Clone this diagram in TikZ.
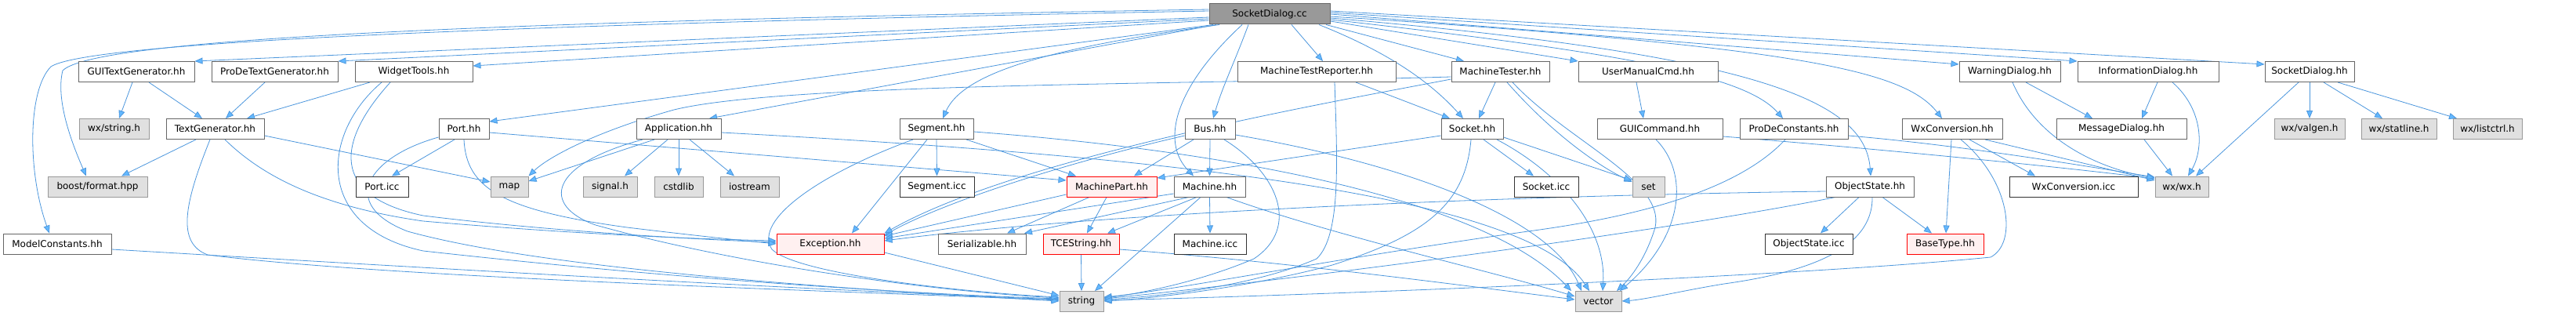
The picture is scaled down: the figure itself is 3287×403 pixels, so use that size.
\documentclass[tikz,border=0pt]{standalone}
\usepackage{fontspec}
\setmainfont{DejaVu Sans}
\usetikzlibrary{arrows.meta,backgrounds}
\definecolor{DoxEdge}{HTML}{63B8FF}
\definecolor{DoxEdgeLine}{HTML}{4C97DD}
\definecolor{DoxLine}{HTML}{666666}
\definecolor{DoxSys}{HTML}{E0E0E0}
\definecolor{DoxSysLine}{HTML}{999999}
\definecolor{DoxTrunc}{HTML}{FFF0F0}
\definecolor{DoxRoot}{HTML}{999999}

\begin{document}
\begin{tikzpicture}[x=0.75pt, y=-0.75pt,
    hdr/.style={rectangle, draw=DoxLine, fill=white, line width=0.75pt,
      minimum height=19.5pt, inner sep=0pt, font=\fontsize{9}{11}\selectfont},
    w/.style={minimum width=#1*0.75pt},
    sys/.style={hdr, draw=DoxSysLine, fill=DoxSys},
    trunc/.style={hdr, draw=red, fill=DoxTrunc},
    icc/.style={hdr, draw=black!80},
    root/.style={hdr, fill=DoxRoot},
    dep/.style={draw=DoxEdgeLine, line width=0.6pt,
      -{Triangle[length=7.5pt,width=6pt,fill=DoxEdge]}}]
    \useasboundingbox (0,0) rectangle (3287,403);
    % row 0
    \node[root, w=154] (sdc) at (1620,18) {SocketDialog.cc};
    % row 1
    \node[hdr, w=148] (gtg) at (174,91.5) {GUITextGenerator.hh};
    \node[hdr, w=161] (pdtg) at (350.5,91.5) {ProDeTextGenerator.hh};
    \node[hdr, w=150] (wt) at (528,91.5) {WidgetTools.hh};
    \node[hdr, w=202] (mtr) at (1680,91.5) {MachineTestReporter.hh};
    \node[hdr, w=125] (mt) at (1914.5,91.5) {MachineTester.hh};
    \node[hdr, w=178] (umc) at (2103,91.5) {UserManualCmd.hh};
    \node[hdr, w=129] (wd) at (2564.5,91.5) {WarningDialog.hh};
    \node[hdr, w=180] (infd) at (2741,91.5) {InformationDialog.hh};
    \node[hdr, w=114] (sdh) at (2947,91.5) {SocketDialog.hh};
    % row 2
    \node[sys, w=89] (wxstr) at (145.5,164.5) {wx/string.h};
    \node[hdr, w=125] (tg) at (274.5,164.5) {TextGenerator.hh};
    \node[hdr, w=64] (port) at (592,164.5) {Port.hh};
    \node[hdr, w=108] (app) at (866,164.5) {Application.hh};
    \node[hdr, w=94] (seg) at (1195,164.5) {Segment.hh};
    \node[hdr, w=64] (bus) at (1544,164.5) {Bus.hh};
    \node[hdr, w=79] (sock) at (1878.5,164.5) {Socket.hh};
    \node[hdr, w=160] (guic) at (2118,164.5) {GUICommand.hh};
    \node[hdr, w=138] (pdc) at (2289,164.5) {ProDeConstants.hh};
    \node[hdr, w=128] (wxc) at (2491,164.5) {WxConversion.hh};
    \node[hdr, w=166] (msgd) at (2707,164.5) {MessageDialog.hh};
    \node[sys, w=90] (valgen) at (2947,164.5) {wx/valgen.h};
    \node[sys, w=96] (statl) at (3061,164.5) {wx/statline.h};
    \node[sys, w=88] (listc) at (3174,164.5) {wx/listctrl.h};
    % row 3
    \node[sys, w=127] (boost) at (124.5,238) {boost/format.hpp};
    \node[icc, w=67] (porticc) at (487.5,238) {Port.icc};
    \node[sys, w=48] (map) at (650,238) {map};
    \node[sys, w=69] (signal) at (778.5,238) {signal.h};
    \node[sys, w=62] (cstdlib) at (866,238) {cstdlib};
    \node[sys, w=75] (iostream) at (956.5,238) {iostream};
    \node[icc, w=95] (segicc) at (1195.5,238) {Segment.icc};
    \node[trunc, w=115] (mp) at (1418.5,238) {MachinePart.hh};
    \node[hdr, w=91] (mach) at (1543.5,238) {Machine.hh};
    \node[icc, w=82] (sockicc) at (1973,238) {Socket.icc};
    \node[sys, w=41] (set) at (2103.5,238) {set};
    \node[hdr, w=112] (os) at (2386,238) {ObjectState.hh};
    \node[icc, w=164] (wxcicc) at (2646,238) {WxConversion.icc};
    \node[sys, w=68] (wxwx) at (2784,238) {wx/wx.h};
    % row 4
    \node[hdr, w=138] (modc) at (73,311) {ModelConstants.hh};
    \node[trunc, w=137] (exc) at (1059.5,311) {Exception.hh};
    \node[hdr, w=112] (ser) at (1253,311) {Serializable.hh};
    \node[trunc, w=97] (tces) at (1379.5,311) {TCEString.hh};
    \node[icc, w=92] (machicc) at (1544,311) {Machine.icc};
    \node[icc, w=112] (osicc) at (2308,311) {ObjectState.icc};
    \node[trunc, w=98] (bt) at (2482,311) {BaseType.hh};
    % row 5
    \node[sys, w=56] (str) at (1380,384.5) {string};
    \node[sys, w=59] (vec) at (2039.5,384.5) {vector};

    \begin{scope}[on background layer]
    \fill[white] (0,0) rectangle (3287,403);
    % includes of the root file
    \draw[dep] (sdc.west |- 0,22) -- (gtg.north east);
    \draw[dep] (sdc.west |- 0,24) -- (pdtg.north east);
    \draw[dep] (sdc.west |- 0,26) -- (wt.east |- 0,84);
    \draw[dep] (sdc.west |- 0,12) .. controls (600,28) and (120,50) .. (80,90) .. controls (70,130) and (95,190) .. (110,0 |- boost.north);
    \draw[dep] (sdc.west |- 0,14) .. controls (600,32) and (110,55) .. (65,85) .. controls (35,115) and (35,220) .. (63,0 |- modc.north);
    \draw[dep] (1548,0 |- sdc.south) -- (port.east |- 0,155);
    \draw[dep] (1552,0 |- sdc.south) -- (905,0 |- app.north);
    \draw[dep] (1556,0 |- sdc.south) .. controls (1350,60) and (1230,90) .. (1203,0 |- seg.north);
    \draw[dep] (1593,0 |- sdc.south) .. controls (1575,80) and (1560,110) .. (1548,0 |- bus.north);
    \draw[dep] (1585,0 |- sdc.south) .. controls (1500,110) and (1480,180) .. (1523,0 |- mach.north);
    \draw[dep] (1648,0 |- sdc.south) -- (1688,0 |- mtr.north);
    \draw[dep] (1683,0 |- sdc.south) .. controls (1780,70) and (1830,110) .. (1867,0 |- sock.north);
    \draw[dep] (1692,0 |- sdc.south) -- (1868,0 |- mt.north);
    \draw[dep] (sdc.east |- 0,27) -- (umc.north west);
    \draw[dep] (sdc.east |- 0,25) .. controls (2100,70) and (2230,100) .. (2275,0 |- pdc.north);
    \draw[dep] (sdc.east |- 0,23) .. controls (2250,70) and (2380,130) .. (2387,0 |- os.north);
    \draw[dep] (sdc.east |- 0,21) .. controls (2300,60) and (2430,90) .. (2478,0 |- wxc.north);
    \draw[dep] (sdc.east |- 0,18) -- (wd.west |- 0,82);
    \draw[dep] (sdc.east |- 0,16) -- (infd.north west);
    \draw[dep] (sdc.east |- 0,14) -- (sdh.west |- 0,82);
    % text generators and widget tools
    \draw[dep] (169,0 |- gtg.south) -- (152,0 |- wxstr.north);
    \draw[dep] (190,0 |- gtg.south) -- (258,0 |- tg.north);
    \draw[dep] (338,0 |- pdtg.south) -- (288,0 |- tg.north);
    \draw[dep] (472,0 |- wt.south) -- (315,0 |- tg.north);
    \draw[dep] (498,0 |- wt.south) .. controls (430,180) and (420,250) .. (540,275) .. controls (700,295) and (900,306) .. (exc.west |- 0,309);
    \draw[dep] (487,0 |- wt.south) .. controls (410,170) and (400,290) .. (540,320) .. controls (900,360) and (1200,376) .. (str.west |- 0,381);
    \draw[dep] (250,0 |- tg.south) -- (155,0 |- boost.north);
    \draw[dep] (268,0 |- tg.south) .. controls (235,260) and (225,310) .. (265,325) .. controls (500,355) and (1100,372) .. (str.west |- 0,383);
    \draw[dep] (287,0 |- tg.south) .. controls (330,220) and (400,262) .. (540,282) .. controls (750,300) and (900,305) .. (exc.west |- 0,307);
    \draw[dep] (tg.east |- 0,173) -- (map.west |- 0,232);
    \draw[dep] (modc.east |- 0,318) .. controls (600,345) and (1000,368) .. (str.west |- 0,382);
    % port and application
    \draw[dep] (580,0 |- port.south) -- (500,0 |- porticc.north);
    \draw[dep] (port.east |- 0,169) -- (mp.west |- 0,230);
    \draw[dep] (592,0 |- port.south) .. controls (595,240) and (640,268) .. (800,290) .. controls (900,302) and (950,307) .. (exc.west |- 0,311);
    \draw[dep] (port.west |- 0,175) .. controls (470,200) and (430,260) .. (520,295) .. controls (700,345) and (1100,370) .. (str.west |- 0,384);
    \draw[dep] (852,0 |- app.south) -- (797,0 |- signal.north);
    \draw[dep] (866,0 |- app.south) -- (866,0 |- cstdlib.north);
    \draw[dep] (880,0 |- app.south) -- (937,0 |- iostream.north);
    \draw[dep] (835,0 |- app.south) -- (map.east |- 0,231);
    \draw[dep] (820,0 |- app.south) .. controls (700,210) and (690,262) .. (760,287) .. controls (950,340) and (1200,372) .. (str.west |- 0,380);
    \draw[dep] (app.east |- 0,169) .. controls (1500,200) and (1950,250) .. (2028,0 |- vec.north);
    % segment and bus
    \draw[dep] (seg.south) -- (segicc.north);
    \draw[dep] (1233,0 |- seg.south) -- (1373,0 |- mp.north);
    \draw[dep] (1183,0 |- seg.south) -- (1087,0 |- exc.north);
    \draw[dep] (1165,0 |- seg.south) .. controls (1050,220) and (960,280) .. (985,318) .. controls (1020,352) and (1250,374) .. (str.west |- 0,379);
    \draw[dep] (seg.east |- 0,168) .. controls (1600,195) and (1900,260) .. (2005,0 |- vec.north);
    \draw[dep] (bus.south) -- (mach.north);
    \draw[dep] (1523,0 |- bus.south) -- (1447,0 |- mp.north);
    \draw[dep] (bus.west |- 0,173) .. controls (1350,210) and (1200,260) .. (exc.east |- 0,300);
    \draw[dep] (1562,0 |- bus.south) .. controls (1630,220) and (1660,290) .. (1600,330) .. controls (1530,360) and (1450,375) .. (str.east |- 0,380);
    \draw[dep] (bus.east |- 0,172) .. controls (1800,210) and (1980,280) .. (2018,0 |- vec.north);
    % machine parts
    \draw[dep] (mp.west |- 0,248) -- (exc.east |- 0,301);
    \draw[dep] (1390,0 |- mp.south) -- (1285,0 |- ser.north);
    \draw[dep] (1412,0 |- mp.south) -- (1387,0 |- tces.north);
    \draw[dep] (mach.west |- 0,247) -- (exc.east |- 0,304);
    \draw[dep] (1517,0 |- mach.south) -- (1307,0 |- ser.north);
    \draw[dep] (1527,0 |- mach.south) -- (1413,0 |- tces.north);
    \draw[dep] (mach.south) -- (machicc.north);
    \draw[dep] (1532,0 |- mach.south) -- (1397,0 |- str.north);
    \draw[dep] (1565,0 |- mach.south) .. controls (1700,300) and (1900,345) .. (vec.west |- 0,378);
    \draw[dep] (tces.south) -- (str.north);
    \draw[dep] (tces.east |- 0,318) .. controls (1650,335) and (1850,362) .. (vec.west |- 0,382);
    \draw[dep] (exc.east |- 0,322) -- (str.west |- 0,377);
    % testers and sockets
    \draw[dep] (1730,0 |- mtr.south) -- (1850,0 |- sock.north);
    \draw[dep] (1703,0 |- mtr.south) .. controls (1706,200) and (1712,300) .. (1680,330) .. controls (1600,365) and (1480,378) .. (str.east |- 0,382);
    \draw[dep] (1908,0 |- mt.south) -- (1887,0 |- sock.north);
    \draw[dep] (1923,0 |- mt.south) .. controls (1980,170) and (2040,212) .. (set.west |- 0,232);
    \draw[dep] (1930,0 |- mt.south) .. controls (2000,180) and (2125,230) .. (2112,290) .. controls (2100,330) and (2080,355) .. (2063,0 |- vec.north);
    \draw[dep] (mt.west |- 0,98) .. controls (1500,108) and (1000,106) .. (860,140) .. controls (760,168) and (700,200) .. (map.north east);
    \draw[dep] (mt.west |- 0,101) .. controls (1700,130) and (1300,200) .. (exc.north east);
    \draw[dep] (1893,0 |- sock.south) -- (1957,0 |- sockicc.north);
    \draw[dep] (sock.east |- 0,175) -- (set.west |- 0,230);
    \draw[dep] (sock.west |- 0,173) -- (mp.east |- 0,227);
    \draw[dep] (1877,0 |- sock.south) .. controls (1870,260) and (1820,300) .. (1700,338) .. controls (1600,365) and (1480,380) .. (str.east |- 0,384);
    \draw[dep] (1910,0 |- sock.south) .. controls (1990,220) and (2050,290) .. (2045,0 |- vec.north);
    % commands and constants
    \draw[dep] (2088,0 |- umc.south) -- (2097,0 |- guic.north);
    \draw[dep] (2113,0 |- guic.south) .. controls (2155,220) and (2150,300) .. (2067,0 |- vec.north);
    \draw[dep] (guic.east |- 0,174) .. controls (2400,190) and (2650,215) .. (wxwx.west |- 0,228);
    \draw[dep] (2278,0 |- pdc.south) .. controls (2220,240) and (2100,275) .. (1950,295) .. controls (1700,330) and (1500,370) .. (str.east |- 0,379);
    \draw[dep] (pdc.east |- 0,173) .. controls (2500,185) and (2650,210) .. (wxwx.west |- 0,226);
    % object state and conversion
    \draw[dep] (2372,0 |- os.south) -- (2323,0 |- osicc.north);
    \draw[dep] (2402,0 |- os.south) -- (2465,0 |- bt.north);
    \draw[dep] (2342,0 |- os.south) .. controls (2100,300) and (1600,362) .. (str.east |- 0,381);
    \draw[dep] (os.west |- 0,244) .. controls (1900,250) and (1400,272) .. (exc.east |- 0,307);
    \draw[dep] (2389,0 |- os.south) .. controls (2390,320) and (2300,348) .. (2200,362) .. controls (2150,370) and (2100,382) .. (vec.east |- 0,384);
    \draw[dep] (2490,0 |- wxc.south) -- (2483,0 |- bt.north);
    \draw[dep] (2513,0 |- wxc.south) -- (2597,0 |- wxcicc.north);
    \draw[dep] (2533,0 |- wxc.south) -- (wxwx.west |- 0,230);
    \draw[dep] (2502,0 |- wxc.south) .. controls (2565,230) and (2575,310) .. (2540,328) .. controls (2300,352) and (1700,376) .. (str.east |- 0,383);
    % dialogs
    \draw[dep] (2585,0 |- wd.south) -- (2670,0 |- msgd.north);
    \draw[dep] (2568,0 |- wd.south) .. controls (2600,180) and (2680,215) .. (wxwx.west |- 0,227);
    \draw[dep] (2753,0 |- infd.south) -- (2733,0 |- msgd.north);
    \draw[dep] (2772,0 |- infd.south) .. controls (2812,140) and (2812,190) .. (2792,0 |- wxwx.north);
    \draw[dep] (2736,0 |- msgd.south) -- (2772,0 |- wxwx.north);
    \draw[dep] (2933,0 |- sdh.south) -- (2802,0 |- wxwx.north);
    \draw[dep] (sdh.south) -- (valgen.north);
    \draw[dep] (2965,0 |- sdh.south) -- (3040,0 |- statl.north);
    \draw[dep] (2983,0 |- sdh.south) -- (3135,0 |- listc.north);
    \end{scope}
\end{tikzpicture}
\end{document}
